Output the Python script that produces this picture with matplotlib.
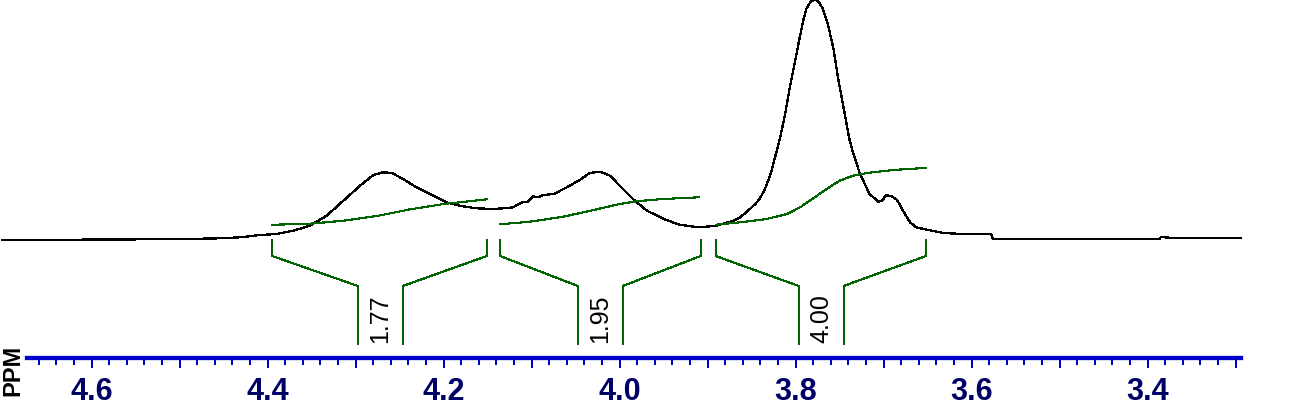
import numpy as np
import matplotlib
matplotlib.use("Agg")
import matplotlib.pyplot as plt
from matplotlib.ticker import MultipleLocator, FuncFormatter

plt.rcParams['font.family'] = ['Liberation Sans', 'DejaVu Sans']

# ---- spectrum (ppm, intensity) ----
spec_ppm = [4.702, 4.636, 4.568, 4.496, 4.454, 4.431, 4.409, 4.390, 4.371, 4.352,
            4.333, 4.314, 4.295, 4.280, 4.269, 4.259, 4.246, 4.231, 4.212, 4.197,
            4.182, 4.163, 4.144, 4.127, 4.121, 4.111, 4.104, 4.098, 4.093, 4.087,
            4.075, 4.060, 4.045, 4.034, 4.022, 4.011, 4.000, 3.985, 3.969, 3.950,
            3.932, 3.913, 3.909, 3.890, 3.871, 3.863, 3.852, 3.846, 3.841, 3.835,
            3.829, 3.824, 3.818, 3.812, 3.807, 3.801, 3.795, 3.791, 3.788, 3.783,
            3.778, 3.774, 3.769, 3.763, 3.757, 3.752, 3.746, 3.739, 3.736, 3.727,
            3.716, 3.706, 3.702, 3.697, 3.691, 3.685, 3.678, 3.670, 3.663, 3.651,
            3.632, 3.610, 3.578, 3.576, 3.387, 3.385, 3.371, 3.294]
spec_int = [-0.2, -0.2, 0.0, 0.5, 1.2, 2.2, 4.5, 5.5, 8.8, 13.8,
            23.8, 38.8, 53.8, 64.5, 67.2, 66.5, 60.5, 52.2, 43.8, 37.2,
            33.8, 31.2, 30.5, 31.5, 32.2, 37.2, 37.8, 43.2, 42.2, 44.5,
            45.5, 52.2, 59.8, 66.5, 67.8, 63.8, 53.8, 40.5, 28.8, 20.5,
            14.8, 12.5, 12.2, 13.8, 18.8, 22.2, 30.5, 35.5, 40.5, 50.5,
            63.8, 80.5, 100.5, 125.5, 150.5, 177.2, 203.8, 220.5, 230.5, 237.8,
            240.0, 237.8, 230.5, 213.8, 190.5, 162.2, 133.8, 100.5, 90.5, 65.5,
            45.5, 37.8, 38.8, 44.5, 43.2, 39.8, 28.8, 17.2, 12.2, 9.8,
            6.5, 5.5, 5.5, 0.2, 0.2, 2.5, 1.5, 1.2]

# ---- integral curves ----
int1_ppm = [4.395, 4.356, 4.343, 4.314, 4.295, 4.276, 4.257, 4.238, 4.219, 4.200, 4.182, 4.151]
int1_val = [14.8, 15.5, 16.5, 18.8, 21.2, 23.5, 26.8, 30.2, 32.8, 35.5, 37.2, 40.2]
int2_ppm = [4.136, 4.102, 4.064, 4.026, 4.000, 3.981, 3.951, 3.910]
int2_val = [15.2, 17.8, 22.8, 30.2, 35.5, 38.2, 40.5, 42.2]
int3_ppm = [3.891, 3.863, 3.833, 3.810, 3.795, 3.780, 3.765, 3.750, 3.735, 3.719, 3.697, 3.674, 3.652]
int3_val = [14.8, 17.2, 20.5, 25.5, 32.2, 41.2, 50.5, 58.8, 63.8, 66.5, 68.8, 70.5, 71.5]

# ---- integral regions and values ----
region_start = [4.395, 4.136, 3.891]
region_end = [4.151, 3.908, 3.652]
label_center = [4.272, 4.022, 3.771]
integral_labels = ["1.77", "1.95", "4.00"]

green = "#006400"
W, H = 1292, 414
fig = plt.figure(figsize=(W / 100, H / 100), dpi=100)
ax = fig.add_axes([0, 0, 1, 1])
ax.set_xlim(4.7042, 3.2360)
ax.set_ylim(-173.5, 240.5)
ax.axis('off')

ax.plot(spec_ppm, spec_int, color='black', lw=0.9, antialiased=False)
for p, v in [(int1_ppm, int1_val), (int2_ppm, int2_val), (int3_ppm, int3_val)]:
    ax.plot(p, v, color=green, lw=0.8, antialiased=False)

top, knee, knee2, bottom = -0.5, -16.5, -46.5, -104.5
half = 0.0255
for a, b, c, lab in zip(region_start, region_end, label_center, integral_labels):
    ax.plot([a, a, c + half, c + half], [top, knee, knee2, bottom], color=green, lw=0.8, antialiased=False)
    ax.plot([c - half, c - half, b, b], [bottom, knee2, knee, top], color=green, lw=0.8, antialiased=False)
    ax.text(c, bottom + 1.5, lab, rotation=90, ha='center', va='bottom', fontsize=18, color='black')

# ---- ppm scale ----
x0, x1 = 26.7, 1240.7
ax2 = fig.add_axes([x0 / W, (H - 358.8) / H, (x1 - x0) / W, 0.05])
ax2.set_facecolor('none')
ax2.set_xlim(4.7042 - x0 / 880, 4.7042 - x1 / 880)
for s in ['top', 'left', 'right']:
    ax2.spines[s].set_visible(False)
ax2.spines['bottom'].set_color('#0000cc')
ax2.spines['bottom'].set_linewidth(3.1)
ax2.set_yticks([])
ax2.xaxis.set_major_locator(MultipleLocator(0.1))
ax2.xaxis.set_minor_locator(MultipleLocator(0.02))
ax2.xaxis.set_major_formatter(FuncFormatter(
    lambda v, p: f"{v:.1f}" if abs(round(v / 0.2) * 0.2 - v) < 1e-6 else ""))
ax2.tick_params(axis='x', which='major', direction='out', length=6.9, width=1.44,
                color='#0000cc', labelcolor='#000066', labelsize=22, pad=6)
ax2.tick_params(axis='x', which='minor', direction='out', length=5.2, width=1.44,
                color='#0000cc')
for t in ax2.get_xticklabels():
    t.set_fontweight('bold')

fig.text(13 / W, (H - 370) / H, "PPM", rotation=90, ha='center', va='center',
         fontsize=17, fontweight='bold', color='black')

fig.savefig("out.png", dpi=100)
